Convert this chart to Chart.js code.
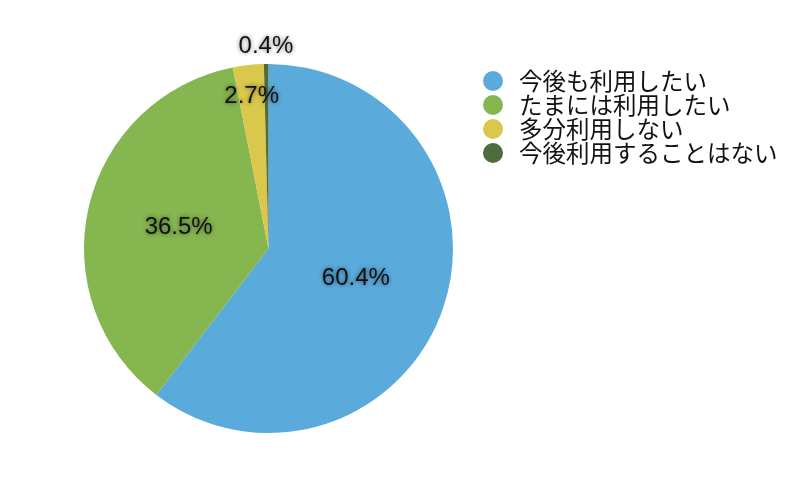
<!DOCTYPE html>
<html>
<head>
<meta charset="utf-8">
<script src="https://cdn.jsdelivr.net/npm/chart.js@4/dist/chart.umd.min.js"></script>
<style>
  html, body { margin: 0; padding: 0; background: #fff; }
  #wrap { width: 800px; height: 500px; position: relative; }
</style>
</head>
<body>
<div id="wrap"><canvas id="pie"></canvas></div>
<script>
// 利用意向の回答 (%)
const labels = ['今後も利用したい', 'たまには利用したい', '多分利用しない', '今後利用することはない'];
const values = [60.4, 36.5, 2.7, 0.4];
const colors = ['#5aabdc', '#86b64f', '#d9c84b', '#506b3c'];

// スライス上のパーセント表示
const sliceLabels = {
    id: 'sliceLabels',
    afterDatasetsDraw(chart) {
        const ctx = chart.ctx;
        const meta = chart.getDatasetMeta(0);
        ctx.save();
        ctx.font = '24px "Liberation Sans", Arial, sans-serif';
        ctx.textAlign = 'center';
        ctx.textBaseline = 'middle';
        ctx.fillStyle = '#111';
        ctx.shadowColor = 'rgba(0,0,0,0.55)';
        ctx.shadowBlur = 4;
        meta.data.forEach((arc, i) => {
            const v = values[i];
            const mid = (arc.startAngle + arc.endAngle) / 2;
            let r = arc.outerRadius * 0.5;
            if (v < 1) r = arc.outerRadius + 18;
            else if (v < 5) r = arc.outerRadius * 0.83;
            const x = arc.x + Math.cos(mid) * r;
            const y = arc.y + Math.sin(mid) * r;
            ctx.fillText(v.toFixed(1) + '%', x, y);
        });
        ctx.restore();
    }
};

// 右側の凡例
const sideLegend = {
    id: 'sideLegend',
    afterDraw(chart) {
        const ctx = chart.ctx;
        ctx.save();
        ctx.font = '23.5px "Noto Sans CJK JP", sans-serif';
        ctx.textBaseline = 'middle';
        labels.forEach((lab, i) => {
            const y = 81 + i * 24;
            ctx.fillStyle = colors[i];
            ctx.beginPath();
            ctx.arc(493, y, 10, 0, Math.PI * 2);
            ctx.fill();
            ctx.fillStyle = '#111';
            ctx.fillText(lab, 519, y);
        });
        ctx.restore();
    }
};

new Chart(document.getElementById('pie'), {
    type: 'pie',
    data: {
        labels: labels,
        datasets: [{ data: values, backgroundColor: colors, borderWidth: 0 }]
    },
    options: {
        responsive: true,
        maintainAspectRatio: false,
        animation: false,
        layout: { padding: { left: 84, right: 347, top: 64, bottom: 67 } },
        plugins: { legend: { display: false }, tooltip: { enabled: false } }
    },
    plugins: [sliceLabels, sideLegend]
});
</script>
</body>
</html>
